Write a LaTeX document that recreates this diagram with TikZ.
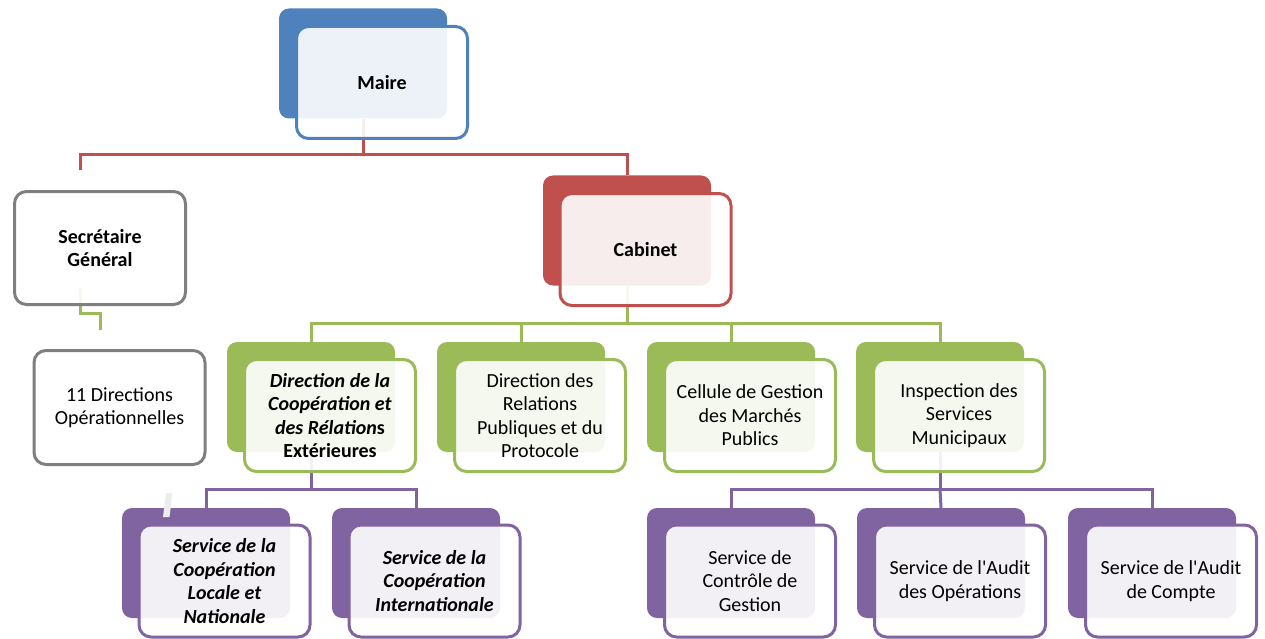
\documentclass[tikz,border=0pt]{standalone}
\usepackage{fontspec}
\setmainfont{Carlito}[Ligatures=TeXOff]
\usetikzlibrary{backgrounds}
\definecolor{cblue}{HTML}{4F81BD}
\definecolor{cred}{HTML}{C0504D}
\definecolor{cgreen}{HTML}{9BBB59}
\definecolor{cpurple}{HTML}{8064A2}
\definecolor{cgray}{HTML}{7F7F7F}
\definecolor{cmark}{HTML}{EDEDED}
\begin{document}
\begin{tikzpicture}[x=1pt,y=-1pt,
  backbox/.style={draw=none, fill=#1, rounded corners=10pt, minimum width=168pt, minimum height=110pt, inner sep=0pt},
  frontbox/.style={draw=#1, line width=3pt, fill=white, fill opacity=0.9, text opacity=1, rounded corners=12pt,
    minimum width=171pt, minimum height=112pt, inner sep=2pt, align=center,
    font=\fontsize{20}{23.5}\selectfont},
  conn/.style={draw=#1, line width=3pt}
]
\useasboundingbox (0,0) rectangle (1265,639);

% Maire
\node[backbox=cblue] (maireB) at (363,63.5) {};
\node[frontbox=cblue, font=\fontsize{20}{23.5}\selectfont\bfseries] (maire) at (382,82.5) {Maire};

% Secretaire
\node[frontbox=cgray, minimum height=113pt] (sg) at (100,248) {\textbf{Secrétaire}\\\textbf{Général}};
\node[frontbox=cgray, minimum height=114pt] (dirop) at (119.5,407.5) {11 Directions\\Opérationnelles};

% Cabinet
\node[backbox=cred] (cabB) at (627,230.5) {};
\node[frontbox=cred, font=\fontsize{20}{23.5}\selectfont\bfseries] (cab) at (645.5,249.5) {Cabinet};

% Green row
\node[backbox=cgreen] (g1B) at (311,397) {};
\node[frontbox=cgreen] (g1) at (330,415.5) {\textbf{\textit{Direction de la}}\\\textbf{\textit{Coopération et}}\\\textbf{\textit{des Rélation}s}\\\textbf{Extérieures}};
\node[backbox=cgreen] (g2B) at (521,397) {};
\node[frontbox=cgreen] (g2) at (540,415.5) {Direction des\\Relations\\Publiques et du\\Protocole};
\node[backbox=cgreen] (g3B) at (731,397) {};
\node[frontbox=cgreen] (g3) at (750,415.5) {Cellule de Gestion\\des Marchés\\Publics};
\node[backbox=cgreen] (g4B) at (940,397) {};
\node[frontbox=cgreen] (g4) at (959,415.5) {Inspection des\\Services\\Municipaux};

% Purple row
\node[backbox=cpurple] (p1B) at (206,563) {};
\node[frontbox=cpurple] (p1) at (224.5,581) {\textbf{\textit{Service de la}}\\\textbf{\textit{Coopération}}\\\textbf{\textit{Locale et}}\\\textbf{\textit{Nationale}}};
\node[backbox=cpurple] (p2B) at (416,563) {};
\node[frontbox=cpurple] (p2) at (434.5,581) {\textbf{\textit{Service de la}}\\\textbf{\textit{Coopération}}\\\textbf{\textit{Internationale}}};
\node[backbox=cpurple] (p3B) at (731,563) {};
\node[frontbox=cpurple] (p3) at (750,581) {Service de\\Contrôle de\\Gestion};
\node[backbox=cpurple] (p4B) at (941,563) {};
\node[frontbox=cpurple] (p4) at (960,581) {Service de l'Audit\\des Opérations};
\node[backbox=cpurple] (p5B) at (1152,563) {};
\node[frontbox=cpurple] (p5) at (1171,581) {Service de l'Audit\\de Compte};

% junction coordinates
\coordinate (mj) at (363,155);
\coordinate (sgin) at (80,170);
\coordinate (sgout) at (80,288);
\coordinate (sgj) at (80,313);
\coordinate (dirin) at (100,330);
\coordinate (cj) at (627,323);
\coordinate (gj) at (311,489);
\coordinate (ij) at (940,489);

\begin{pgfonlayer}{background}
\draw[conn=cred] (maireB.south) -- (mj);
\draw[conn=cred] (sgin) |- (mj) -| (cabB.north);
\draw[conn=cgreen] (sgout) -- (sgj) -| (dirin);
\draw[conn=cgreen] (cabB.south) -- (cj);
\draw[conn=cgreen] (g1B.north) |- (cj) -| (g4B.north);
\draw[conn=cgreen] (cj -| g2B.north) -- (g2B.north);
\draw[conn=cgreen] (cj -| g3B.north) -- (g3B.north);
\draw[conn=cpurple] (g1B.south) -- (gj);
\draw[conn=cpurple] (p1B.north) |- (gj) -| (p2B.north);
\draw[conn=cpurple] (g4B.south) -- (ij);
\draw[conn=cpurple] (p3B.north) |- (ij) -| (p5B.north);
\draw[conn=cpurple] (ij) -- (p4B.north);
\end{pgfonlayer}

% small stray mark
\fill[cmark] (166,493) -- (172.5,493) -- (169.5,517) -- (163,517) -- cycle;
\end{tikzpicture}
\end{document}
